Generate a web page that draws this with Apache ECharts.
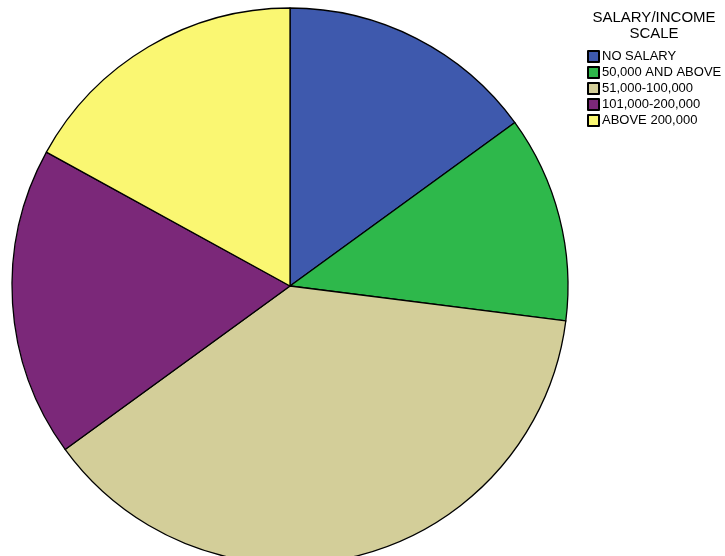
<!DOCTYPE html>
<html>
<head>
<meta charset="utf-8">
<script src="https://cdn.jsdelivr.net/npm/echarts@6/dist/echarts.min.js"></script>
<style>
  html, body { margin: 0; padding: 0; background: #ffffff; }
  #chart { width: 725px; height: 556px; }
</style>
</head>
<body>
<div id="chart"></div>
<script>
// Salary / income scale categories and their shares
const categories = ['NO SALARY', '50,000 AND ABOVE', '51,000-100,000', '101,000-200,000', 'ABOVE 200,000'];
const values = [15, 12, 38, 18, 17];
const colors = ['#3E59AD', '#2EB84B', '#D3CE99', '#7B2879', '#FAF772'];
const legendTitle = ['SALARY/INCOME', 'SCALE'];

const chart = echarts.init(document.getElementById('chart'), null, { renderer: 'canvas' });

chart.setOption({
  animation: false,
  backgroundColor: '#ffffff',
  textStyle: { fontFamily: 'Liberation Sans, Arial, sans-serif' },
  graphic: [{
    type: 'text',
    x: 654,
    y: 10,
    style: {
      text: legendTitle.join('\n'),
      align: 'center',
      verticalAlign: 'top',
      font: '15px "Liberation Sans", Arial, sans-serif',
      lineHeight: 16,
      fill: '#000000'
    }
  }],
  legend: {
    orient: 'vertical',
    left: 582,
    top: 45,
    itemWidth: 11,
    itemHeight: 11,
    itemGap: 3,
    icon: 'rect',
    selectedMode: false,
    textStyle: {
      fontSize: 13,
      color: '#000000',
      fontFamily: 'Liberation Sans, Arial, sans-serif',
      padding: [0, 0, 0, -2]
    },
    data: categories
  },
  series: [{
    type: 'pie',
    center: [290, 286],
    radius: 278,
    startAngle: 90,
    clockwise: true,
    label: { show: false },
    labelLine: { show: false },
    emphasis: { disabled: true },
    itemStyle: { borderColor: '#000000', borderWidth: 1.3 },
    data: categories.map((name, i) => ({
      name: name,
      value: values[i],
      itemStyle: { color: colors[i] }
    }))
  }]
});
</script>
</body>
</html>
